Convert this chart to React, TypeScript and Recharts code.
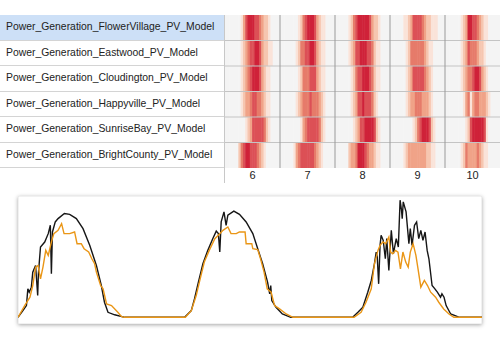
import React from "react"
import { BarChart, Bar, Cell, XAxis, YAxis, ReferenceLine, LineChart, Line, CartesianGrid } from "recharts"

// heatmap rows, top to bottom
const plantNames = [
  "Power_Generation_FlowerVillage_PV_Model",
  "Power_Generation_Eastwood_PV_Model",
  "Power_Generation_Cloudington_PV_Model",
  "Power_Generation_Happyville_PV_Model",
  "Power_Generation_SunriseBay_PV_Model",
  "Power_Generation_BrightCounty_PV_Model",
]
const dayLabels = ["6", "7", "8", "9", "10"]

// hourly intensity level (0..6) from 05:00 to 20:00, one list per day
const firstHour = 5
const flowerVillage = [
  [0, 0, 1, 3, 5, 6, 6, 6, 5, 5, 4, 3, 2, 2, 1, 0],
  [0, 0, 0, 1, 2, 4, 5, 6, 6, 6, 5, 3, 2, 1, 1, 0],
  [0, 1, 2, 4, 5, 6, 6, 6, 6, 6, 5, 3, 2, 2, 1, 0],
  [0, 1, 1, 2, 3, 5, 5, 5, 5, 4, 3, 2, 2, 1, 1, 1],
  [0, 0, 1, 2, 3, 6, 6, 5, 5, 4, 3, 2, 1, 1, 0, 0],
]
const eastwood = [
  [0, 0, 1, 2, 3, 4, 5, 5, 6, 6, 5, 3, 2, 2, 1, 1],
  [0, 0, 1, 2, 4, 4, 5, 5, 6, 6, 5, 3, 2, 1, 1, 0],
  [0, 1, 2, 3, 5, 5, 6, 6, 6, 5, 5, 4, 2, 1, 1, 0],
  [0, 0, 1, 2, 4, 4, 4, 4, 4, 4, 3, 2, 1, 1, 0, 0],
  [0, 0, 1, 2, 3, 5, 4, 4, 4, 3, 2, 2, 1, 0, 0, 0],
]
const cloudington = [
  [0, 0, 1, 2, 3, 4, 5, 6, 6, 6, 5, 3, 2, 1, 1, 0],
  [0, 0, 0, 1, 2, 4, 4, 4, 5, 5, 5, 3, 2, 1, 1, 0],
  [0, 0, 1, 2, 4, 5, 5, 6, 6, 6, 5, 4, 2, 1, 1, 0],
  [0, 0, 1, 2, 3, 5, 5, 5, 5, 5, 4, 3, 2, 1, 0, 0],
  [0, 0, 1, 2, 3, 4, 4, 5, 6, 6, 5, 3, 2, 1, 0, 0],
]
const happyville = [
  [0, 0, 1, 2, 3, 3, 4, 5, 5, 4, 4, 3, 2, 1, 1, 0],
  [0, 0, 1, 2, 3, 4, 4, 4, 5, 4, 4, 4, 3, 2, 1, 0],
  [0, 0, 1, 2, 3, 5, 5, 6, 5, 5, 5, 4, 2, 1, 0, 0],
  [0, 0, 1, 2, 3, 3, 4, 4, 4, 3, 3, 3, 2, 1, 0, 0],
  [0, 0, 0, 1, 3, 4, 1, 3, 4, 4, 3, 3, 3, 2, 1, 0],
]
const sunriseBay = [
  [0, 0, 0, 0, 1, 2, 3, 5, 5, 5, 5, 5, 4, 2, 1, 0],
  [0, 0, 0, 0, 1, 3, 4, 5, 5, 5, 5, 5, 4, 2, 1, 0],
  [0, 0, 0, 1, 2, 3, 5, 5, 6, 6, 6, 6, 5, 2, 1, 0],
  [0, 0, 0, 0, 0, 1, 2, 4, 5, 6, 6, 6, 5, 2, 1, 0],
  [0, 0, 0, 0, 1, 2, 5, 6, 6, 6, 6, 6, 5, 1, 0, 0],
]
const brightCounty = [
  [0, 2, 4, 5, 6, 6, 5, 5, 5, 4, 3, 2, 1, 0, 0, 0],
  [0, 1, 3, 4, 5, 5, 5, 5, 5, 5, 4, 3, 2, 1, 0, 0],
  [0, 2, 3, 3, 4, 6, 6, 6, 5, 4, 3, 3, 2, 1, 1, 0],
  [0, 1, 2, 3, 3, 3, 3, 3, 3, 3, 3, 2, 2, 1, 1, 0],
  [0, 0, 1, 2, 4, 3, 3, 3, 3, 4, 3, 2, 1, 1, 0, 0],
]
const heatRows = [flowerVillage, eastwood, cloudington, happyville, sunriseBay, brightCounty]
const levelColors = ["#f4f4f4", "#fae3d9", "#f6c6b0", "#f0a388", "#e67b6a", "#dc5056", "#cf2239"]

// line chart: [hour since day start, kW]
const measured: [number, number][] = [
  [5.5, 0], [6.2, 0.4], [6.7, 0.7], [6.9, 1.7], [7.1, 1.5], [7.4, 1.8], [7.6, 2.7], [8.0, 3.1], [8.3, 1.3],
  [8.4, 2.6], [8.7, 4.2], [9.3, 4.5], [9.8, 5.0], [10.1, 5.5], [10.25, 2.6], [10.4, 5.1], [10.8, 5.7],
  [11.2, 5.9], [12.1, 6.2], [12.85, 6.15], [13.8, 5.9], [14.75, 5.3], [15.7, 4.3], [16.65, 3.1],
  [17.35, 1.9], [17.8, 0.9], [18.3, 0.3], [19.25, 0.15], [20.7, 0],
  [29.2, 0], [30.15, 0.4], [30.6, 1.1], [31.1, 2.0], [31.8, 3.2], [32.5, 4.0], [33.2, 4.7], [33.7, 5.15],
  [34.0, 5.0], [34.2, 3.9], [34.4, 5.7], [34.8, 6.3], [35.1, 5.5], [35.35, 6.1], [36.2, 6.35], [37.0, 6.15],
  [37.95, 5.7], [38.9, 5.0], [39.6, 4.1], [40.3, 3.2], [41.0, 2.1], [41.3, 1.4], [41.45, 1.9], [41.6, 1.0],
  [42.2, 0.6], [43.1, 0.2], [44.3, 0],
  [53.1, 0], [53.85, 0.3], [54.55, 0.6], [55.25, 1.5], [55.75, 2.2], [56.2, 3.2], [56.45, 3.9], [56.6, 3.6],
  [56.8, 2.0], [57.0, 4.3], [57.15, 4.9], [57.45, 4.6], [57.75, 3.5], [57.95, 4.7], [58.25, 2.8], [58.6, 5.2],
  [58.9, 3.8], [59.3, 4.7], [59.6, 4.2], [59.85, 7.0], [60.05, 6.4], [60.15, 5.9], [60.3, 6.9], [60.5, 6.6],
  [60.7, 6.3], [61.1, 4.4], [61.3, 5.3], [61.55, 4.3], [61.9, 5.5], [62.2, 5.7], [62.5, 4.7], [62.8, 5.2],
  [63.1, 4.6], [63.4, 5.1], [63.7, 4.0], [63.95, 3.5], [64.4, 1.9], [64.8, 1.7], [65.15, 1.5], [65.6, 1.2],
  [65.8, 1.4], [66.1, 1.2], [66.4, 0.7], [67.05, 0.2], [68.3, 0], [71.5, 0],
]
const modelled: [number, number][] = [
  [5.5, 0], [6.45, 0.7], [7.2, 1.2], [7.6, 1.9], [8.0, 3.0], [8.35, 3.1], [8.7, 2.3], [9.05, 3.0], [9.45, 4.0],
  [9.8, 3.7], [10.25, 4.5], [10.6, 5.0], [11.2, 5.2], [11.7, 5.6], [12.05, 5.0], [12.85, 5.0], [13.55, 5.1],
  [13.9, 4.4], [14.5, 4.4], [14.9, 4.1], [15.55, 3.9], [16.0, 3.5], [16.4, 3.2], [16.65, 2.7], [17.25, 1.9],
  [17.6, 1.7], [18.1, 0.8], [18.8, 0.7], [19.7, 0.3], [20.2, 0.05], [20.6, 0],
  [29.3, 0], [30.15, 0.4], [30.85, 1.3], [31.3, 2.1], [32.0, 3.3], [32.7, 4.0], [33.5, 4.7], [34.2, 5.0],
  [34.65, 5.2], [35.35, 5.4], [35.8, 5.0], [36.55, 5.0], [37.0, 5.1], [37.8, 5.1], [37.95, 4.4], [38.75, 4.4],
  [38.9, 4.1], [39.6, 4.05], [40.0, 3.5], [40.5, 2.7], [40.95, 1.7], [41.5, 1.5], [42.0, 0.7], [42.7, 0.5],
  [43.65, 0.2], [44.6, 0],
  [53.3, 0], [54.3, 0.3], [55.0, 0.9], [55.75, 1.7], [56.2, 3.2], [56.7, 4.0], [57.0, 4.3], [57.4, 4.5],
  [57.8, 4.4], [58.25, 4.8], [58.5, 3.9], [58.8, 3.8], [59.2, 4.0], [59.55, 3.9], [59.9, 2.9], [60.25, 3.9],
  [60.65, 3.3], [61.0, 3.0], [61.3, 3.9], [61.7, 4.4], [62.1, 3.7], [62.4, 2.9], [62.8, 1.8], [63.3, 2.2],
  [63.75, 1.9], [64.2, 1.5], [64.9, 1.2], [65.35, 0.9], [66.05, 0.5], [66.8, 0.2], [67.5, 0], [71.5, 0],
]

const font = "'Liberation Sans', Arial, sans-serif"
const rowTop = 15
const rowH = 25.5
const heatW = 275
const slotCount = dayLabels.length * 24
const slotPx = heatW / slotCount

// one entry per hour slot; every row is a stacked bar of height 1 coloured by its level
const heatData = dayLabels.flatMap((_, d) =>
  Array.from({ length: 24 }, (_, h) => {
    const entry: Record<string, number> = { t: d * 24 + h + 0.5 }
    heatRows.forEach((row, r) => {
      const i = h - firstHour
      entry["one" + r] = 1
      entry["lvl" + r] = i >= 0 && i < row[d].length ? row[d][i] : 0
    })
    return entry
  }),
)

const toPoints = (pts: [number, number][]) => pts.map(([t, v]) => ({ t, v }))

// full-width slot so neighbouring cells touch without seams
const HeatCell = (props: any) => {
  const { x, y, width, height, fill } = props
  const w = slotPx + 0.5
  return <rect x={x + width / 2 - w / 2} y={y} width={w} height={height} fill={fill} />
}

export default function App() {
  return (
    <div style={{ position: "absolute", left: 0, top: 0, width: 500, height: 360, background: "#fff", fontFamily: font }}>
      {/* label column */}
      <div style={{ position: "absolute", left: 0, top: rowTop, width: 224, height: 168, borderRight: "1px solid #c8c8c8" }}>
        {plantNames.map((name, i) => (
          <div
            key={name}
            style={{
              position: "absolute",
              left: 0,
              top: i * rowH,
              width: 224,
              height: rowH,
              boxSizing: "border-box",
              borderBottom: "1px solid #d4d4d4",
              background: i === 0 ? "#cde0f7" : "transparent",
              fontSize: 10.4,
              color: "#222",
              lineHeight: rowH - 1 + "px",
              paddingLeft: 6,
              whiteSpace: "nowrap",
            }}
          >
            {name}
          </div>
        ))}
      </div>

      {/* heatmap */}
      <div style={{ position: "absolute", left: 225, top: rowTop }}>
        <BarChart
          width={heatW}
          height={173}
          data={heatData}
          margin={{ top: 0, right: 0, bottom: 0, left: 0 }}
          barCategoryGap={0}
          barGap={0}
        >
          <XAxis dataKey="t" type="category" hide height={0} />
          <XAxis
            xAxisId="sep"
            type="number"
            dataKey="t"
            domain={[0, slotCount]}
            ticks={[24, 48, 72, 96]}
            height={0}
            tick={false}
            tickSize={15}
            tickLine={{ stroke: "#9a9a9a" }}
            axisLine={{ stroke: "#c4c4c4" }}
          />
          <XAxis
            xAxisId="lab"
            type="number"
            dataKey="t"
            domain={[0, slotCount]}
            ticks={[12, 36, 60, 84, 108]}
            interval={0}
            tickFormatter={(v: number) => dayLabels[Math.round((v - 12) / 24)]}
            tickLine={false}
            axisLine={false}
            tickSize={0}
            tickMargin={3}
            height={20}
            tick={{ fontSize: 11, fill: "#222", fontFamily: font }}
          />
          <YAxis type="number" domain={[0, 6]} hide />
          {[5, 4, 3, 2, 1, 0].map((r) => (
            <Bar key={r} dataKey={"one" + r} stackId="rows" isAnimationActive={false} shape={HeatCell}>
              {heatData.map((e, i) => (
                <Cell key={i} fill={levelColors[e["lvl" + r]]} />
              ))}
            </Bar>
          ))}
          {[1, 2, 3, 4, 5].map((y) => (
            <ReferenceLine key={"h" + y} y={y} xAxisId="sep" stroke="#c4c4c4" />
          ))}
          {[24, 48, 72, 96].map((x) => (
            <ReferenceLine key={"v" + x} x={x} xAxisId="sep" stroke="#9a9a9a" />
          ))}
        </BarChart>
      </div>

      {/* line chart */}
      <div
        style={{
          position: "absolute",
          left: 18,
          top: 196,
          width: 464,
          height: 128,
          background: "#fff",
          boxShadow: "0 1px 4px rgba(0,0,0,0.35)",
        }}
      >
        <LineChart width={464} height={128} margin={{ top: 0, right: 0, bottom: 0, left: 0 }}>
          <CartesianGrid stroke="#e3e3e3" />
          <XAxis
            type="number"
            dataKey="t"
            domain={[5.5, 71.5]}
            ticks={[12, 24, 36, 48, 60]}
            allowDataOverflow
            height={0}
            tick={false}
            tickLine={false}
            axisLine={false}
          />
          <YAxis
            type="number"
            domain={[-0.4, 7.25]}
            ticks={[0, 1, 2, 3, 4, 5, 6, 7]}
            allowDataOverflow
            width={0}
            tick={false}
            tickLine={false}
            axisLine={false}
          />
          <Line data={toPoints(measured)} dataKey="v" type="linear" stroke="#161616" strokeWidth={1.4} dot={false} isAnimationActive={false} />
          <Line data={toPoints(modelled)} dataKey="v" type="linear" stroke="#ea9616" strokeWidth={1.4} dot={false} isAnimationActive={false} />
        </LineChart>
      </div>
    </div>
  )
}
